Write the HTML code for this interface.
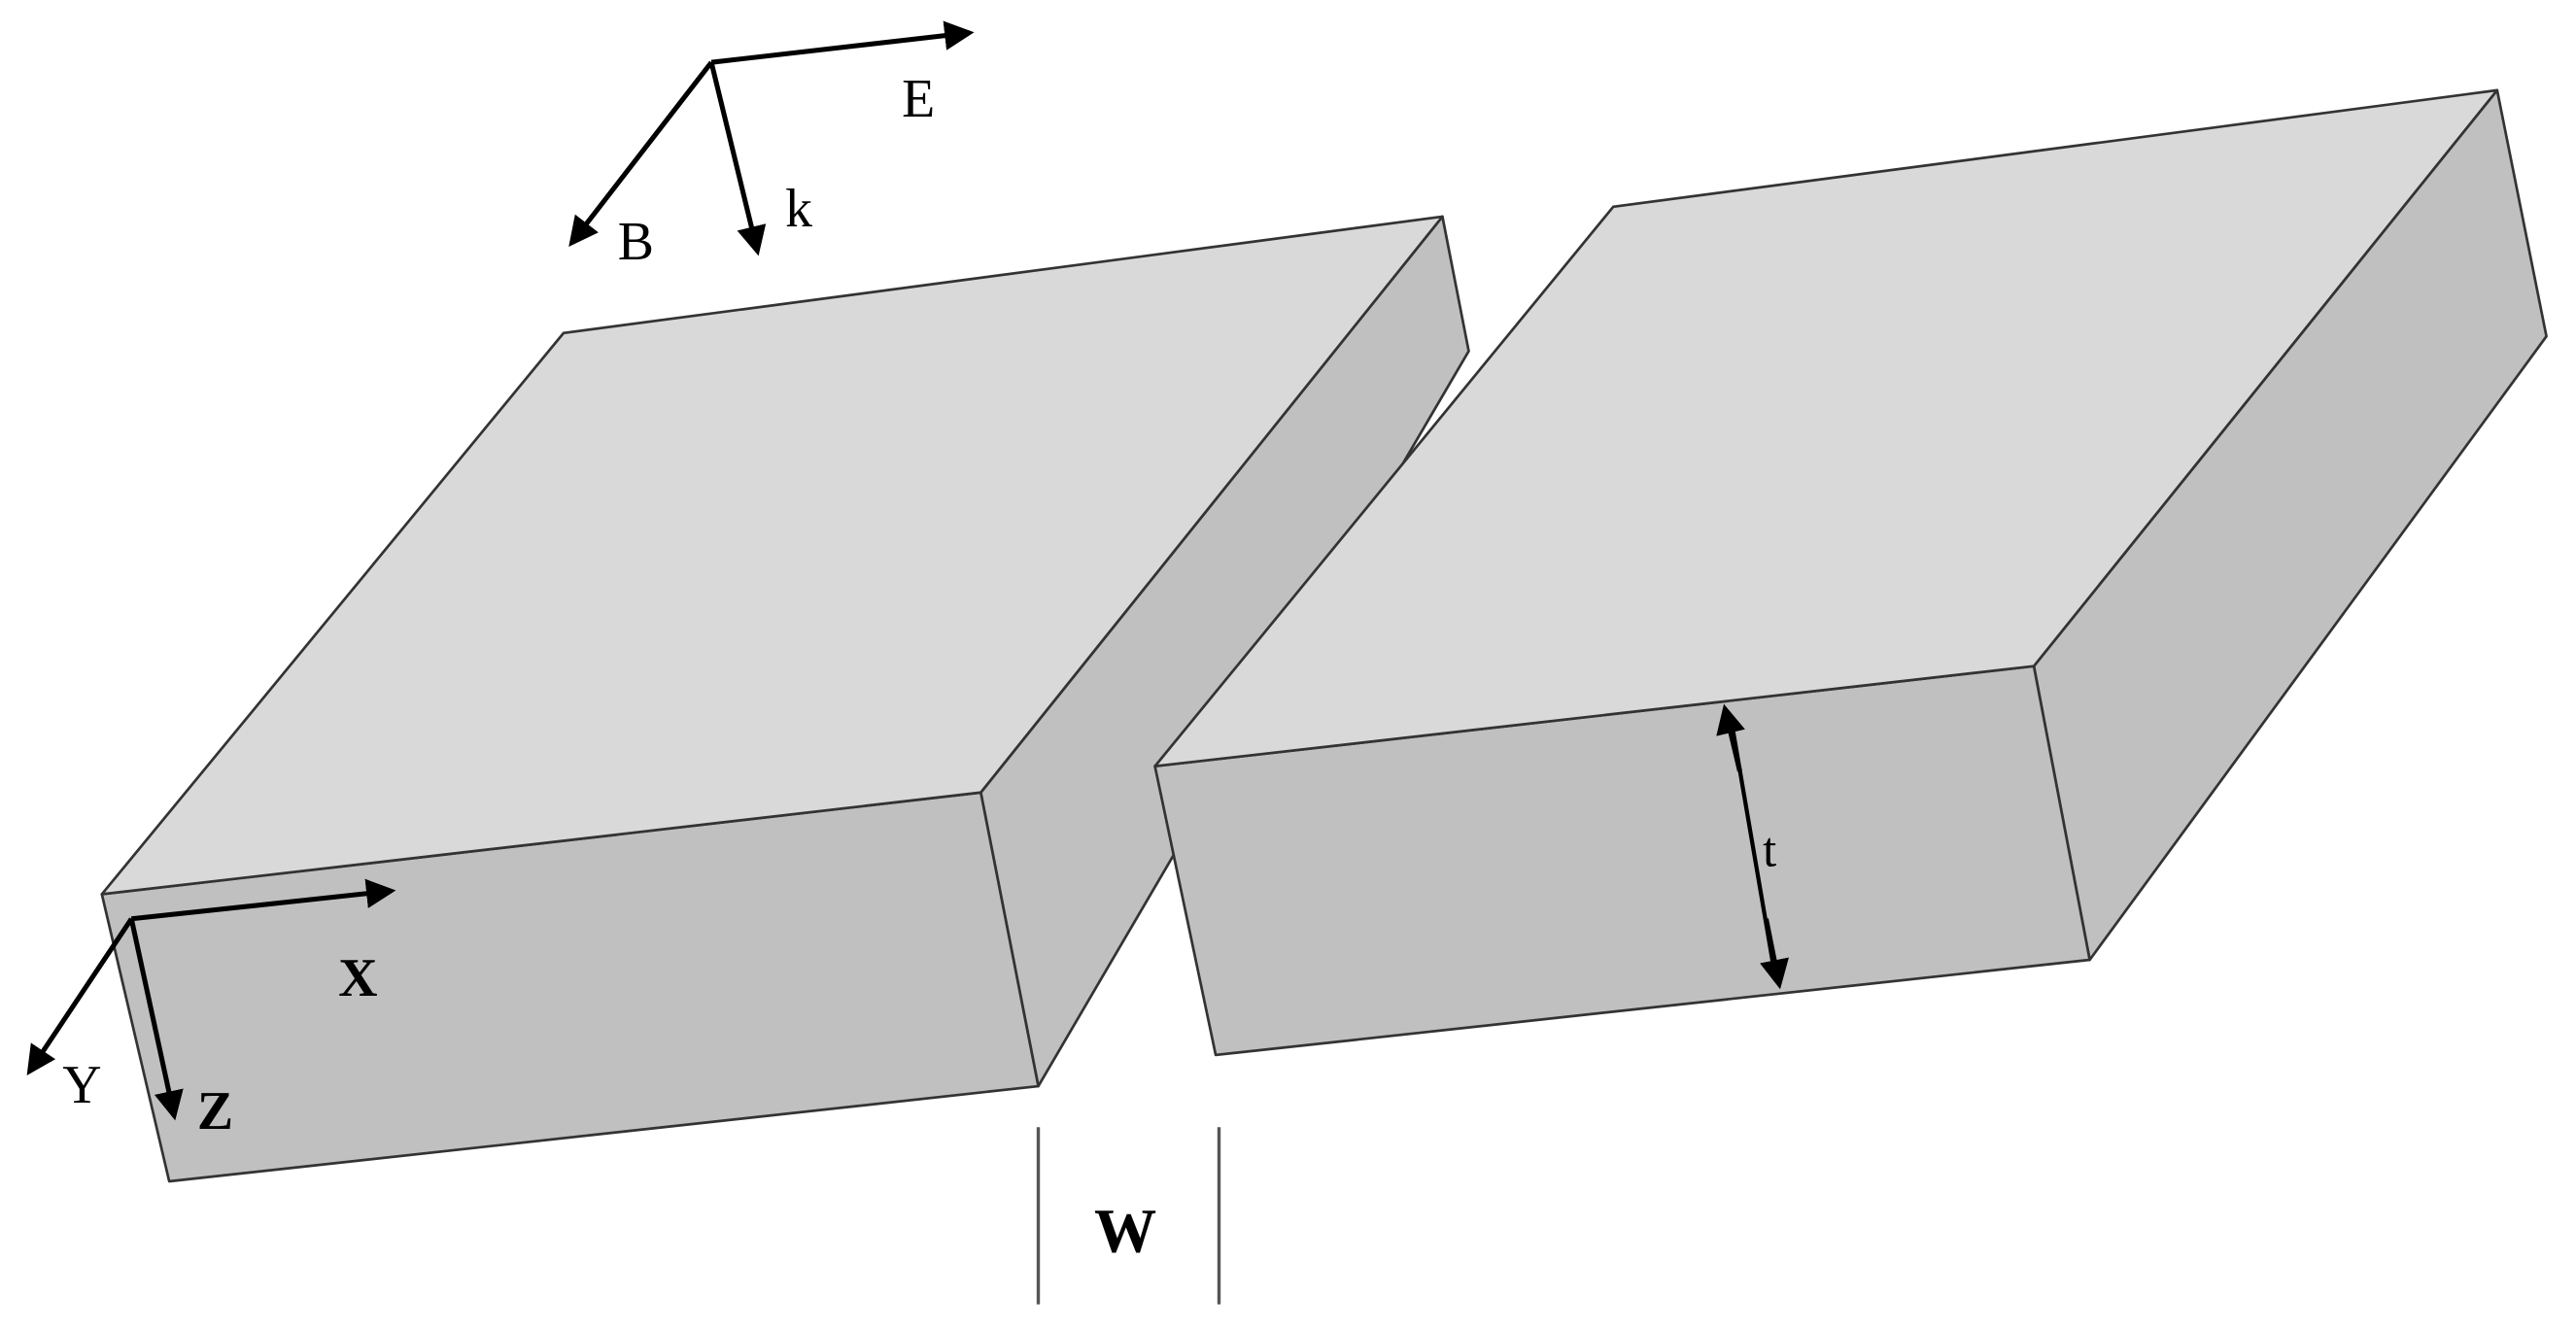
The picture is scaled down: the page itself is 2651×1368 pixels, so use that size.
<!DOCTYPE html>
<html><head><meta charset="utf-8"><style>html,body{margin:0;padding:0;background:#fff}svg{display:block}</style></head>
<body>
<svg width="2651" height="1368" viewBox="0 0 1568 810" preserveAspectRatio="none" xmlns="http://www.w3.org/2000/svg">
<defs><marker id="a" markerWidth="6" markerHeight="6" refX="5" refY="3" orient="auto" markerUnits="strokeWidth"><path d="M0,0 L6,3 L0,6 z" fill="#000"/></marker></defs>
<g stroke="#333" stroke-width="1.6" stroke-linejoin="round">
<polygon points="597,483 878,132 894,214 632,662" fill="#c0c0c0"/>
<polygon points="62,545 597,483 632,662 103,720" fill="#c0c0c0"/>
<polygon points="62,545 343,203 878,132 597,483" fill="#d9d9d9"/>
<polygon points="1238,406 1520,55 1550,205 1272,585" fill="#c0c0c0"/>
<polygon points="703,467 1238,406 1272,585 740,643" fill="#c0c0c0"/>
<polygon points="703,467 982,126 1520,55 1238,406" fill="#d9d9d9"/>
</g>
<g stroke="#000" stroke-width="3" fill="none">
<line x1="433" y1="38" x2="590" y2="20" marker-end="url(#a)"/>
<line x1="433" y1="38" x2="461" y2="153" marker-end="url(#a)"/>
<line x1="433" y1="38" x2="348" y2="148" marker-end="url(#a)"/>
<line x1="80" y1="560" x2="238" y2="543" marker-end="url(#a)"/>
<line x1="80" y1="560" x2="106" y2="680" marker-end="url(#a)"/>
<line x1="80" y1="560" x2="18" y2="653" marker-end="url(#a)"/>
<line x1="1054" y1="440" x2="1080" y2="592" stroke-width="2.5"/>
<line x1="1059" y1="470" x2="1050" y2="432" marker-end="url(#a)"/>
<line x1="1075" y1="560" x2="1083" y2="600" marker-end="url(#a)"/>
</g>
<g stroke="#555" stroke-width="2"><line x1="632" y1="687" x2="632" y2="795"/><line x1="742" y1="687" x2="742" y2="795"/></g>
<g font-family="Liberation Serif, serif" font-size="33" fill="#000">
<text x="549" y="71">E</text><text x="478" y="138">k</text><text x="376" y="158">B</text>
<text x="206" y="607" font-weight="bold">X</text><text x="38" y="672">Y</text><text x="120" y="688" font-weight="bold">Z</text>
<text x="1073" y="528" font-size="30">t</text>
<text x="666" y="763" font-size="38" font-weight="bold">W</text>
</g>
</svg>
</body></html>
